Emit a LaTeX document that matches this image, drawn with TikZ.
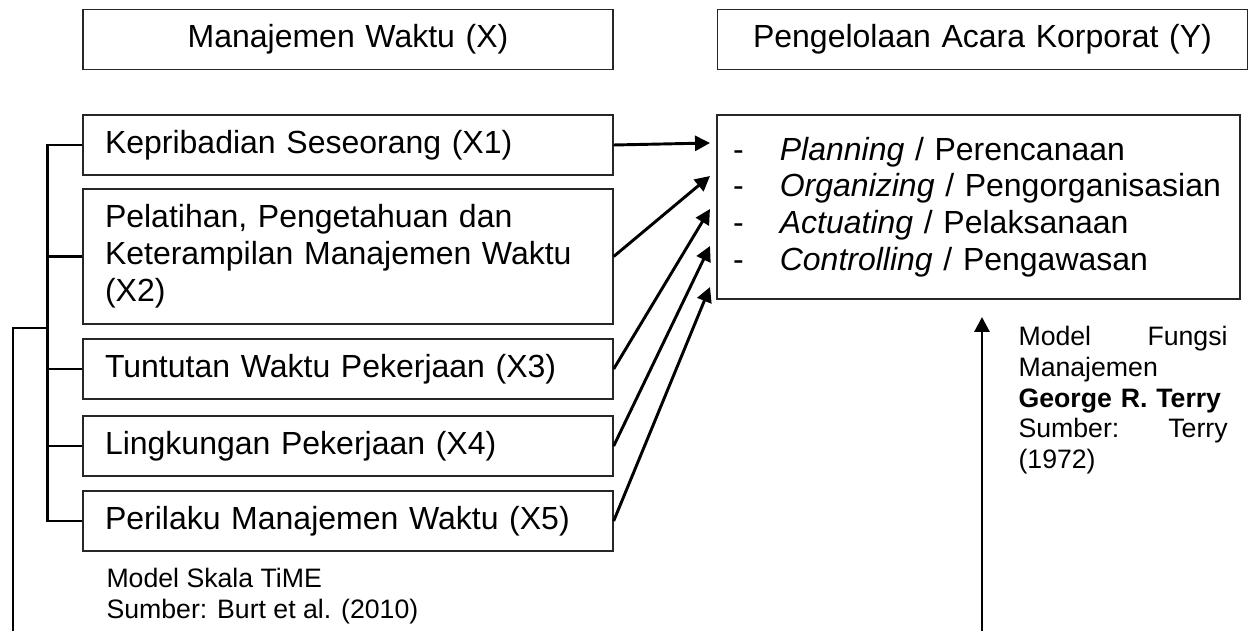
\documentclass[tikz,border=0pt]{standalone}
\usepackage{fontspec}
\setmainfont{Liberation Sans}
\usetikzlibrary{arrows.meta,positioning}
\newcommand{\butir}{\makebox[17.5pt][l]{-}}
\tikzset{
  kotak/.style={draw=black!85, line width=0.5pt, minimum width=530*0.375pt,
    minimum height=60*0.375pt, inner xsep=8.25pt, text width=182.25pt,
    align=left, font=\fontsize{12}{13.8}\selectfont},
  judul/.style={kotak, align=center},
  cabang/.style={line width=0.95pt},
  panah/.style={line width=1.1pt, -{Triangle[length=5.6pt,width=5.6pt]}},
  catatan/.style={inner sep=0pt, anchor=north west, align=left,
    font=\fontsize{10}{11.5}\selectfont},
}
\begin{document}
\begin{tikzpicture}[x=0.375pt, y=-0.375pt]
\useasboundingbox (0,0) rectangle (1250,631);
% judul
\node[judul] (mw) at (348,39.5) {Manajemen Waktu (X)};
\node[judul] (pak) at (982.5,39.5) {Pengelolaan Acara Korporat (Y)};
% dimensi X
\node[kotak] (x1) at (348,145) {Kepribadian Seseorang (X1)};
\node[kotak, minimum height=135*0.375pt] (x2) at (348,256.5)
  {Pelatihan, Pengetahuan dan Keterampilan Manajemen Waktu (X2)};
\node[kotak] (x3) at (348,369) {Tuntutan Waktu Pekerjaan (X3)};
\node[kotak] (x4) at (348,446) {Lingkungan Pekerjaan (X4)};
\node[kotak] (x5) at (348,521) {Perilaku Manajemen Waktu (X5)};
% fungsi manajemen
\node[kotak, minimum width=523*0.375pt, minimum height=184*0.375pt,
  inner xsep=6pt, text width=184pt] (fungsi) at (978.5,207)
  {\butir\textit{Planning} / Perencanaan\\
   \butir\textit{Organizing} / Pengorganisasian\\
   \butir\textit{Actuating} / Pelaksanaan\\
   \butir\textit{Controlling} / Pengawasan};
\node[catatan] (skala) at (106,568) {Model Skala TiME\\Sumber: Burt et al. (2010)};
\node[catatan, text width=78.4pt] (terry) at (1018,326)
  {Model\hfill Fungsi\\ Manajemen\\ \textbf{George R. Terry}\\ Sumber:\hfill Terry\\ (1972)};
% garis cabang kiri
\draw[cabang] (x1.west) -- ++(-35,0) |- (x5.west);
\draw[cabang] (x2.west) -- ++(-35,0);
\draw[cabang] (x3.west) -- ++(-35,0);
\draw[cabang] (x4.west) -- ++(-35,0);
\coordinate (simpul) at (48,328);
\coordinate (bawahkiri) at (13,631);
\draw[cabang] (simpul) -| (bawahkiri);
% panah ke fungsi
\coordinate (t1) at (710,143);
\coordinate (t2) at (710,176);
\coordinate (t3) at (710,209);
\coordinate (t4) at (710,246);
\coordinate (t5) at (710,287);
\draw[panah] (x1.east) -- (t1);
\draw[panah] (x2.east) -- (t2);
\draw[panah] (x3.east) -- (t3);
\draw[panah] (x4.east) -- (t4);
\draw[panah] (x5.east) -- (t5);
\coordinate (bawahkanan) at (982,631);
\coordinate (atas) at (982,317);
\draw[panah] (bawahkanan) -- (atas);
\end{tikzpicture}
\end{document}
